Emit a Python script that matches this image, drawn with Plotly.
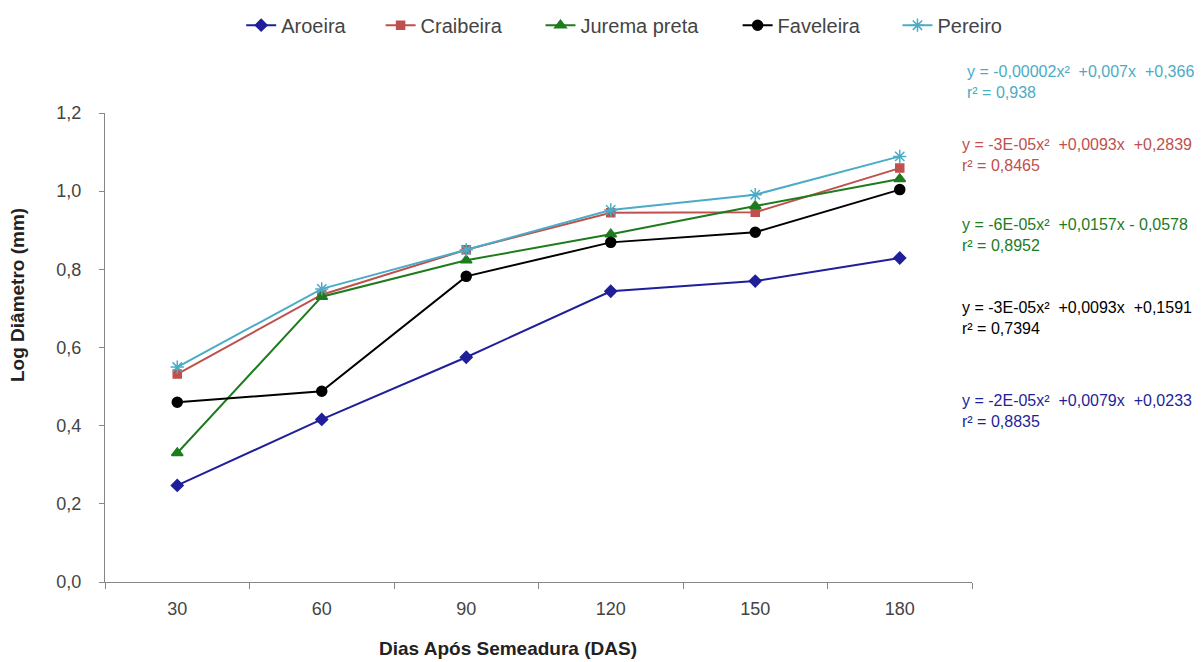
import plotly.graph_objects as go

dias = ["30", "60", "90", "120", "150", "180"]
aroeira = [0.247, 0.416, 0.575, 0.744, 0.770, 0.829]
craibeira = [0.532, 0.735, 0.850, 0.945, 0.946, 1.059]
jurema = [0.330, 0.730, 0.823, 0.890, 0.962, 1.031]
faveleira = [0.460, 0.488, 0.782, 0.869, 0.895, 1.004]
pereiro = [0.550, 0.750, 0.850, 0.952, 0.991, 1.089]

series = [
    ("Aroeira", aroeira, "#1F1F9A", "diamond", 9),
    ("Craibeira", craibeira, "#C0504D", "square", 8),
    ("Jurema preta", jurema, "#1E7B1E", "triangle-up", 10),
    ("Faveleira", faveleira, "#000000", "circle", 10),
    ("Pereiro", pereiro, "#4BACC6", "asterisk-open", 11),
]
legend_x = [0.194, 0.310, 0.443, 0.607, 0.740]

equations = [
    ("y = -0,00002x²  +0,007x  +0,366<br>r² = 0,938", "#4BACC6", 0.992, 1.066),
    ("y = -3E-05x²  +0,0093x  +0,2839<br>r² = 0,8465", "#C0504D", 0.986, 0.910),
    ("y = -6E-05x²  +0,0157x - 0,0578<br>r² = 0,8952", "#1E7B1E", 0.986, 0.740),
    ("y = -3E-05x²  +0,0093x  +0,1591<br>r² = 0,7394", "#000000", 0.986, 0.563),
    ("y = -2E-05x²  +0,0079x  +0,0233<br>r² = 0,8835", "#1F1F9A", 0.986, 0.365),
]

fig = go.Figure()
layout_legends = {}
for i, (name, vals, color, sym, size) in enumerate(series):
    lname = "legend" if i == 0 else f"legend{i + 1}"
    fig.add_trace(go.Scatter(
        x=dias, y=vals, name=name, mode="lines+markers",
        line=dict(color=color, width=2),
        marker=dict(symbol=sym, size=size, color=color,
                    line=dict(color=color, width=1.5)),
        legend=lname,
    ))
    layout_legends[lname] = dict(
        orientation="h", xref="container", yref="container",
        x=legend_x[i], y=0.974, xanchor="left", yanchor="middle",
        font=dict(size=20, color="#444444"), itemwidth=30,
        bgcolor="rgba(0,0,0,0)",
    )

for text, color, x, y in equations:
    fig.add_annotation(text=text, xref="paper", yref="paper", x=x, y=y,
                       xanchor="left", yanchor="middle", align="left",
                       showarrow=False,
                       font=dict(family="Liberation Sans, Arial", size=16, color=color))

# axis titles
fig.add_annotation(text="<b>Dias Após Semeadura (DAS)</b>", xref="paper", yref="paper",
                   x=0.465, y=-0.141, xanchor="center", yanchor="middle", showarrow=False,
                   font=dict(size=19, color="#222222"))
fig.add_annotation(text="<b>Log Diâmetro (mm)</b>", xref="paper", yref="paper",
                   x=-0.1003, y=0.612, xanchor="center", yanchor="middle", showarrow=False,
                   textangle=-90, font=dict(size=19, color="#222222"))

fig.update_layout(
    width=1202, height=662,
    paper_bgcolor="white", plot_bgcolor="white",
    margin=dict(l=97, r=238, t=105, b=88),
    font=dict(family="Liberation Sans, Arial", size=18, color="#444444"),
    showlegend=True,
    xaxis=dict(type="category", range=[-0.5, 5.5], showgrid=False,
               showline=True, linecolor="#868686", linewidth=1,
               ticks="outside", tickson="boundaries", ticklen=6, tickcolor="#868686",
               tickfont=dict(size=18, color="#444444"), ticklabelstandoff=10),
    yaxis=dict(range=[0, 1.2], dtick=0.2, tickformat=".1f", showgrid=False,
               zeroline=False, showline=True, linecolor="#868686", linewidth=1,
               ticks="outside", ticklen=5, tickcolor="#868686",
               tickfont=dict(size=18, color="#444444"), ticklabelstandoff=14),
    separators=",.",
    **layout_legends,
)

fig.write_html("out.html")
